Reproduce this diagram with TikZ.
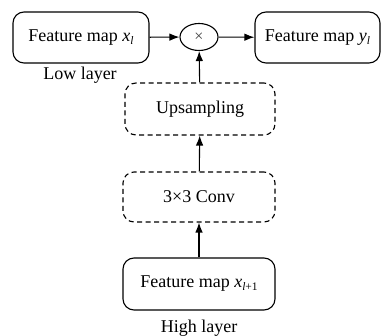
\documentclass[tikz,border=0pt]{standalone}
\usepackage{fontspec}
\setmainfont{Liberation Serif}
\usetikzlibrary{arrows.meta,shapes.geometric}
\newcommand{\sbx}[1]{\raisebox{-0.35ex}{\fontsize{11.5}{11.5}\selectfont #1}}
\tikzset{
  x=1pt, y=-1pt,
  solidbox/.style={draw, line width=1.1pt, rounded corners=11pt, align=center,
    font=\fontsize{18}{21}\selectfont, inner sep=0pt},
  dashbox/.style={draw, line width=1.1pt, rounded corners=11pt, align=center,
    dash pattern=on 5pt off 3.5pt, font=\fontsize{18}{21}\selectfont, inner sep=0pt},
  flow/.style={line width=1.1pt, -{Latex[length=10pt,width=7.5pt]}},
  caption/.style={font=\fontsize{18}{21}\selectfont, inner sep=0pt}
}
\begin{document}
\begin{tikzpicture}
\useasboundingbox (0,0) rectangle (382,336);
% feature maps
\node[solidbox, minimum width=136pt, minimum height=51pt] (low) at (81,37.5)
  {Feature map \textit{x}\sbx{\textit{l}}};
\node[solidbox, minimum width=125pt, minimum height=51pt] (out) at (317.5,37.5)
  {Feature map \textit{y}\sbx{\textit{l}}};
\node[solidbox, minimum width=152pt, minimum height=52pt] (high) at (199,284)
  {Feature map \textit{x}\sbx{\textit{l}+1}};
% multiplication node
\node[draw, ellipse, line width=1.1pt, minimum width=38pt, minimum height=27pt,
  inner sep=0pt, font=\fontsize{16}{16}\selectfont, text=black!75] (mul) at (199,37) {×};
% processing steps
\node[dashbox, minimum width=150pt, minimum height=52pt] (up) at (200,109) {Upsampling};
\node[dashbox, minimum width=152pt, minimum height=50pt] (conv) at (199,197) {3×3 Conv};
% layer captions
\node[caption] (lowlbl) at (80,75) {Low layer};
\node[caption] (highlbl) at (199,328) {High layer};
% connectors
\draw[flow] (low) -- (mul);
\draw[flow] (mul) -- (out);
\draw[flow] (up) -- (mul);
\draw[flow] (conv) -- (up);
\draw[flow] (high) -- (conv);
\end{tikzpicture}
\end{document}
